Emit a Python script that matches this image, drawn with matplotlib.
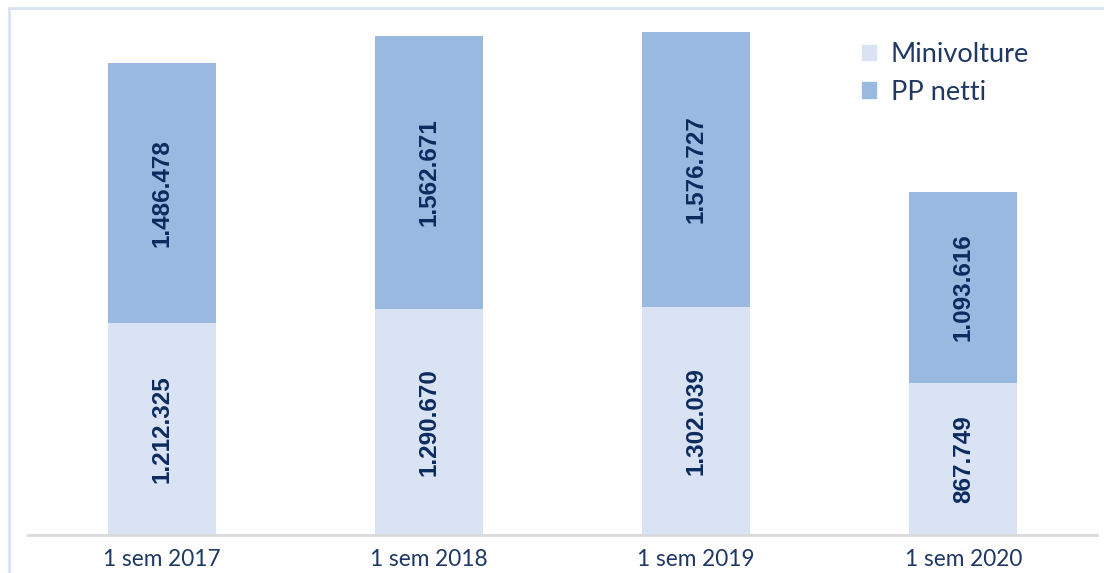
import matplotlib
matplotlib.use("Agg")
import matplotlib.pyplot as plt
from matplotlib.lines import Line2D
from matplotlib.patches import Patch
from matplotlib.font_manager import FontProperties

categories = ["1 sem 2017", "1 sem 2018", "1 sem 2019", "1 sem 2020"]
minivolture = [1212325, 1290670, 1302039, 867749]
pp_netti = [1486478, 1562671, 1576727, 1093616]
series_names = ["Minivolture", "PP netti"]

plt.rcParams['font.family'] = ['Lato', 'DejaVu Sans']

W, H = 1104, 573
fig = plt.figure(figsize=(W / 100, H / 100), dpi=100)
ax = fig.add_axes([28 / W, (H - 535) / H, (1097 - 28) / W, (535 - 20) / H])

c_light = "#dae3f3"
c_dark = "#9ab9e0"
navy = "#0b2a5e"

x = range(len(categories))
b1 = ax.bar(x, minivolture, width=0.404, color=c_light, label=series_names[0])
b2 = ax.bar(x, pp_netti, width=0.404, bottom=minivolture, color=c_dark, label=series_names[1])

fp = FontProperties(family="Liberation Sans", weight="bold", size=17.5)
fmt = lambda v: f"{v:,}".replace(",", ".")
for bars, vals in ((b1, minivolture), (b2, pp_netti)):
    ax.bar_label(bars, labels=[fmt(v) for v in vals], label_type="center",
                 rotation=90, fontproperties=fp, color=navy)

ax.set_xlim(-0.5, len(categories) - 0.5)
ax.set_ylim(0, 515 / 1.749e-4)
ax.set_xticks(list(x))
ax.set_xticklabels(categories, fontsize=16.3, color="#1f3864")
ax.tick_params(axis="x", length=0, pad=10)
ax.set_yticks([])
for s in ("top", "right", "left"):
    ax.spines[s].set_visible(False)
ax.spines["bottom"].set_color("#d9d9d9")
ax.spines["bottom"].set_linewidth(2)

handles = [Patch(color=c_light), Patch(color=c_dark)]
fig.legend(handles, series_names, loc="upper left",
           bbox_to_anchor=(838 / W, 1 - 18 / H), frameon=False,
           fontsize=19.5, labelcolor="#1f3864", handlelength=0.5, handleheight=0.5,
           handletextpad=0.55, labelspacing=0.45)

# thin frame lines
fig.add_artist(Line2D([9 / W, 1], [1 - 8 / H, 1 - 8 / H], color=c_light, lw=2, transform=fig.transFigure))
fig.add_artist(Line2D([9 / W, 9 / W], [0, 1 - 8 / H], color=c_light, lw=2, transform=fig.transFigure))

fig.savefig("out.png", dpi=100, facecolor="white")
